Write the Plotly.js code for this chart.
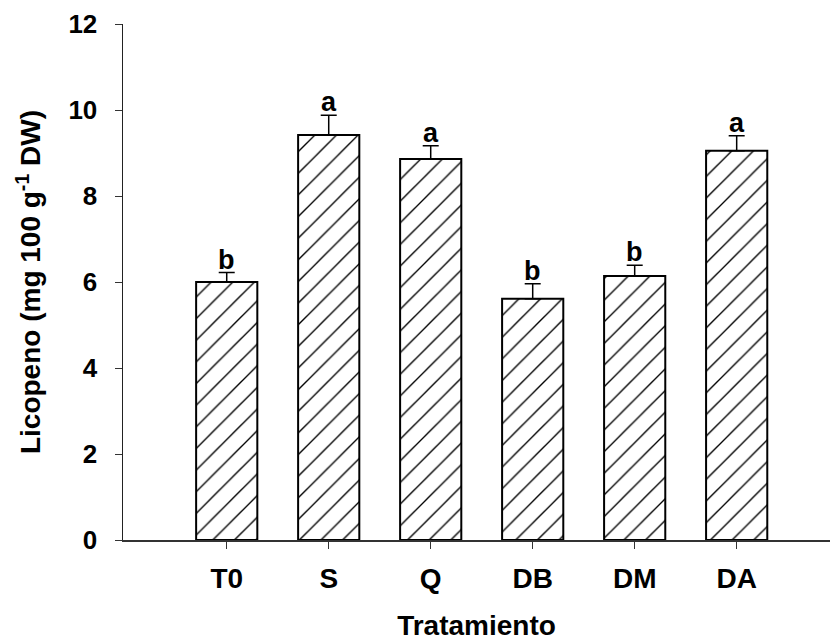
<!DOCTYPE html>
<html>
<head>
<meta charset="utf-8">
<script src="https://cdn.plot.ly/plotly-3.0.1.min.js"></script>
<style>html,body{margin:0;padding:0;background:#fff;overflow:hidden;}</style>
</head>
<body>
<div id="chart" style="width:830px;height:641px;"></div>
<script>
const categories = ["T0", "S", "Q", "DB", "DM", "DA"];
const licopeno = [6.00, 9.42, 8.86, 5.61, 6.14, 9.05];
const errorUp = [0.22, 0.46, 0.31, 0.35, 0.25, 0.35];
const letters = ["b", "a", "a", "b", "b", "a"];
const yTicks = [0, 2, 4, 6, 8, 10, 12];

const FONT = "Arial, 'Liberation Sans', sans-serif";

const trace = {
  type: "bar",
  x: categories.map((c, i) => i),
  y: licopeno,
  width: 0.6,
  marker: {
    color: "#ffffff",
    line: {color: "#000000", width: 2},
    pattern: {shape: "/", fgcolor: "#000000", bgcolor: "#ffffff", size: 15.3, solidity: 0.09}
  },
  error_y: {
    type: "data",
    symmetric: false,
    array: errorUp,
    arrayminus: errorUp.map(() => 0),
    color: "#000000",
    thickness: 1.5,
    width: 8
  },
  hoverinfo: "none"
};

const annotations = letters.map((t, i) => ({
  x: i,
  y: licopeno[i] + errorUp[i],
  xref: "x",
  yref: "y",
  text: t,
  showarrow: false,
  yanchor: "bottom",
  yshift: -4,
  font: {family: FONT, size: 27, color: "#000", weight: "bold"}
}));

const layout = {
  width: 830,
  height: 641,
  margin: {l: 123, r: 0, t: 24, b: 101},
  paper_bgcolor: "#ffffff",
  plot_bgcolor: "#ffffff",
  showlegend: false,
  font: {family: FONT, color: "#000"},
  xaxis: {
    range: [-1.017, 5.915],
    tickmode: "array",
    tickvals: categories.map((c, i) => i),
    ticktext: categories,
    ticks: "outside",
    ticklen: 7,
    tickwidth: 1,
    tickcolor: "#333",
    showline: true,
    linecolor: "#333",
    linewidth: 1.5,
    showgrid: false,
    zeroline: false,
    ticklabelstandoff: 6,
    tickfont: {family: FONT, size: 28, color: "#000", weight: "bold"},
    title: {text: "Tratamiento", standoff: 32, font: {family: FONT, size: 28, color: "#000", weight: "bold"}},
    automargin: false
  },
  yaxis: {
    range: [0, 12],
    tickmode: "array",
    tickvals: yTicks,
    ticktext: yTicks.map(String),
    ticks: "outside",
    ticklen: 7,
    tickwidth: 1,
    tickcolor: "#333",
    showline: true,
    linecolor: "#222",
    linewidth: 1.5,
    showgrid: false,
    zeroline: false,
    ticklabelstandoff: 12,
    tickfont: {family: FONT, size: 26, color: "#000", weight: "bold"},
    title: {text: "Licopeno (mg 100 g<sup>-1</sup> DW)", standoff: 19, font: {family: FONT, size: 28, color: "#000", weight: "bold"}},
    automargin: false
  },
  annotations: annotations
};

Plotly.newPlot("chart", [trace], layout, {staticPlot: true, displayModeBar: false});
</script>
</body>
</html>
